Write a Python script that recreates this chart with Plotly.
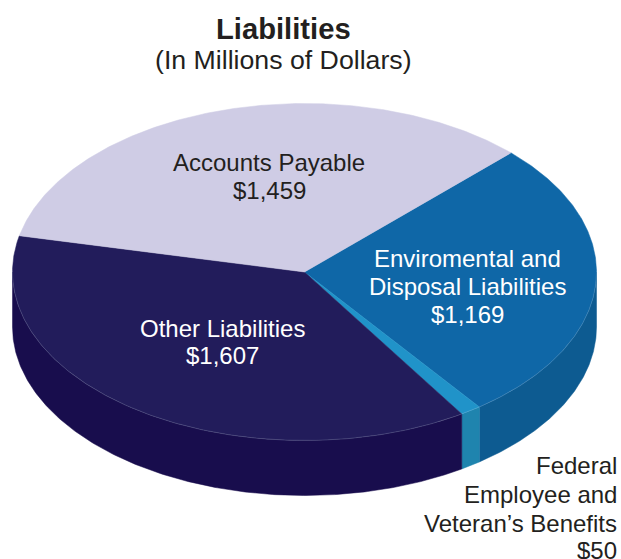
import numpy as np
import plotly.graph_objects as go

# Data, clockwise from the upper right
categories = ["Enviromental and Disposal Liabilities",
              "Federal Employee and Veteran's Benefits",
              "Other Liabilities",
              "Accounts Payable"]
values = [1169, 50, 1607, 1459]
value_labels = ["$1,169", "$50", "$1,607", "$1,459"]
top_colors = ["#0F67A7", "#2093C9", "#221C5B", "#CFCCE5"]
side_colors = ["#0D5B91", "#1F84AE", "#180D4D", "#CFCCE5"]

# Pie geometry in pixel-like axis units
CX, CY, RX, RY, DEPTH = 304.5, 272, 292, 168.5, 55
START_DEG = 45.0

total = sum(values)
fig = go.Figure()


def arc(a0, a1, dy=0.0):
    n = max(3, int(abs(a1 - a0)) * 2)
    t = np.radians(np.linspace(a0, a1, n))
    return CX + RX * np.cos(t), CY - RY * np.sin(t) + dy


# Compute clockwise spans
spans = []
a = START_DEG
for v in values:
    b = a - 360.0 * v / total
    spans.append((a, b))
    a = b

# Side walls (only the front half, where sin(angle) < 0)
for (a0, b0), col in zip(spans, side_colors):
    for k in (0, -1):
        lo = max(b0, -180 + 360 * k)
        hi = min(a0, 0 + 360 * k)
        if hi <= lo:
            continue
        x1, y1 = arc(hi, lo)
        x2, y2 = arc(lo, hi, DEPTH)
        fig.add_trace(go.Scatter(x=np.r_[x1, x2, x1[0]], y=np.r_[y1, y2, y1[0]],
                                 mode="lines", fill="toself", fillcolor=col,
                                 line=dict(color=col, width=0.5), hoverinfo="skip"))

# Top slices
for (a0, b0), col in zip(spans, top_colors):
    x, y = arc(a0, b0)
    fig.add_trace(go.Scatter(x=np.r_[CX, x, CX], y=np.r_[CY, y, CY],
                             mode="lines", fill="toself", fillcolor=col,
                             line=dict(color=col, width=0.5), hoverinfo="skip"))

# Thin highlight along the front rim
x, y = arc(0, -180)
fig.add_trace(go.Scatter(x=x, y=y, mode="lines",
                         line=dict(color="rgba(200,215,235,0.3)", width=0.6),
                         hoverinfo="skip"))

FONT = "Liberation Sans, Arial, sans-serif"
DARK = "#231F20"


def label(x, y, text, color=DARK, size=24, bold=False, anchor="center"):
    fig.add_annotation(x=x, y=y, text=f"<b>{text}</b>" if bold else text, showarrow=False,
                       xanchor=anchor, yanchor="middle", align=anchor,
                       font=dict(family=FONT, size=size, color=color))


label(283, 29, "Liabilities", size=29.2, bold=True)
label(283.5, 60, "(In Millions of Dollars)", size=26.7)
label(269, 162, categories[3])
label(269, 190, value_labels[3])
label(467.5, 258, "Enviromental and", "#FFFFFF")
label(467.5, 286, "Disposal Liabilities", "#FFFFFF")
label(467.5, 314, value_labels[0], "#FFFFFF")
label(222.5, 328, categories[2], "#FFFFFF")
label(222.5, 355, value_labels[2], "#FFFFFF")
label(619, 465, "Federal", anchor="right")
label(619, 494, "Employee and", anchor="right")
label(619, 523, "Veteran’s Benefits", anchor="right")
label(619, 550, value_labels[1], anchor="right")

fig.update_layout(
    width=621, height=559, margin=dict(l=0, r=0, t=0, b=0),
    paper_bgcolor="white", plot_bgcolor="white", showlegend=False,
    xaxis=dict(range=[0, 621], visible=False, fixedrange=True),
    yaxis=dict(range=[559, 0], visible=False, fixedrange=True),
)
fig.write_html("out.html", config={"displayModeBar": False},
               post_script="document.body.style.margin='0';document.documentElement.style.overflow='hidden';")
